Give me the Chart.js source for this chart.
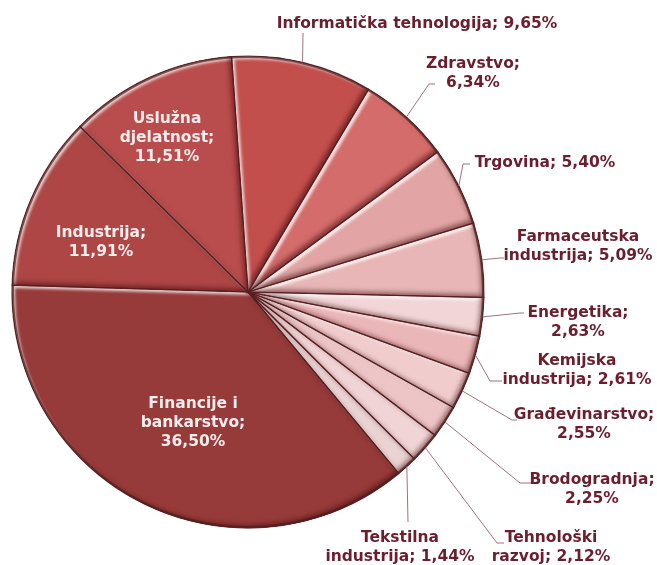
<!DOCTYPE html>
<html>
<head>
<meta charset="utf-8">
<script src="https://cdn.jsdelivr.net/npm/chart.js@4"></script>
<style>
  html, body { margin: 0; padding: 0; background: #fff; }
  #wrap { width: 657px; height: 565px; position: relative; }
</style>
</head>
<body>
<div id="wrap"><canvas id="pie"></canvas></div>
<script>
// categories, clockwise from the top
const sectors = ['Informatička tehnologija', 'Zdravstvo', 'Trgovina', 'Farmaceutska industrija',
  'Energetika', 'Kemijska industrija', 'Građevinarstvo', 'Brodogradnja', 'Tehnološki razvoj',
  'Tekstilna industrija', 'Financije i bankarstvo', 'Industrija', 'Uslužna djelatnost'];
const shares = [9.65, 6.34, 5.40, 5.09, 2.63, 2.61, 2.55, 2.25, 2.12, 1.44, 36.50, 11.91, 11.51];

const fills = ['#C34F4D', '#D46C6B', '#E2A4A4', '#E8B6B6', '#F2D6D7', '#EBB6B8', '#F0CCCD',
  '#EDC5C7', '#F1D4D5', '#EBD3D4', '#973A3A', '#AE4646', '#B94C4C'];

// label layout: words per line, text centre, where the leader bends
const labelLayout = [
  {lines: [4], x: 417, y: 24, bend: [303, 33]},
  {lines: [1, 1], x: 473, y: 64, bend: [429, 84], end: 435},
  {lines: [3], x: 545, y: 163, bend: [463, 164], end: 470},
  {lines: [1, 2], x: 578, y: 237, bend: [500, 258], end: 504},
  {lines: [1, 1], x: 578, y: 313, bend: [520, 313], end: 524},
  {lines: [1, 2], x: 577, y: 361, bend: [490, 381], end: 502},
  {lines: [1, 1], x: 584, y: 415, bend: [512, 420], end: 517},
  {lines: [1, 1], x: 592, y: 480, bend: [520, 483], end: 531},
  {lines: [1, 2], x: 551, y: 538, bend: [497, 543], end: 504},
  {lines: [1, 2], x: 400, y: 538, bend: [408, 522]},
  {lines: [2, 1, 1], x: 193, y: 404, inside: true},
  {lines: [1, 1], x: 101, y: 233, inside: true},
  {lines: [1, 1, 1], x: 167, y: 119, inside: true}
];

const fmt = v => v.toFixed(2).replace('.', ',') + '%';

function slicePath(ctx, a) {
  ctx.moveTo(a.x, a.y);
  ctx.arc(a.x, a.y, a.outerRadius, a.startAngle, a.endAngle);
  ctx.closePath();
}

// soft bevel look of the original: light upper-left edges, dark lower-right edges
const bevel = {
  id: 'bevel',
  afterDatasetsDraw(chart) {
    const ctx = chart.ctx;
    const arcs = chart.getDatasetMeta(0).data;
    arcs.forEach(a => {
      ctx.save();
      ctx.beginPath(); slicePath(ctx, a); ctx.clip();
      [['rgba(255,255,255,0.8)', 3, 3, 3], ['rgba(50,0,0,0.5)', -3, -3, 5]].forEach(s => {
        ctx.save();
        ctx.beginPath();
        ctx.rect(-3000, -3000, 7000, 7000);
        slicePath(ctx, a);
        ctx.shadowColor = s[0];
        ctx.shadowOffsetX = s[1];
        ctx.shadowOffsetY = s[2];
        ctx.shadowBlur = s[3];
        ctx.fillStyle = '#000';
        ctx.fill('evenodd');
        ctx.restore();
      });
      ctx.restore();
    });
    // edge lines
    ctx.save();
    ctx.strokeStyle = 'rgba(90,30,30,0.85)';
    ctx.lineWidth = 1.2;
    arcs.forEach(a => { ctx.beginPath(); slicePath(ctx, a); ctx.stroke(); });
    // darker rim
    const a0 = arcs[0];
    ctx.beginPath();
    ctx.arc(a0.x, a0.y, a0.outerRadius - 1, 0, Math.PI * 2);
    ctx.strokeStyle = 'rgba(80,30,30,0.7)';
    ctx.lineWidth = 2;
    ctx.stroke();
    ctx.restore();
  }
};

const sliceLabels = {
  id: 'sliceLabels',
  afterDraw(chart) {
    const ctx = chart.ctx;
    const arcs = chart.getDatasetMeta(0).data;
    ctx.save();
    ctx.font = 'bold 15.5px "DejaVu Sans", Verdana, sans-serif';
    ctx.textAlign = 'center';
    ctx.textBaseline = 'middle';
    arcs.forEach((a, i) => {
      const lay = labelLayout[i];
      const words = (sectors[i] + '; ' + fmt(shares[i])).split(' ');
      const rows = [];
      let k = 0;
      lay.lines.forEach(n => { rows.push(words.slice(k, k + n).join(' ')); k += n; });
      if (!lay.inside) {
        const mid = (a.startAngle + a.endAngle) / 2;
        const ax = a.x + Math.cos(mid) * a.outerRadius;
        const ay = a.y + Math.sin(mid) * a.outerRadius;
        ctx.beginPath();
        ctx.moveTo(ax, ay);
        ctx.lineTo(lay.bend[0], lay.bend[1]);
        if (lay.end) ctx.lineTo(lay.end, lay.bend[1]);
        ctx.strokeStyle = '#A0737B';
        ctx.lineWidth = 1;
        ctx.stroke();
      }
      ctx.fillStyle = lay.inside ? '#F6ECEC' : '#6B1F2E';
      rows.forEach((r, j) => ctx.fillText(r, lay.x, lay.y + j * 19));
    });
    ctx.restore();
  }
};

new Chart(document.getElementById('pie'), {
  type: 'pie',
  data: {
    labels: sectors,
    datasets: [{
      data: shares,
      backgroundColor: fills,
      borderWidth: 0
    }]
  },
  options: {
    responsive: true,
    maintainAspectRatio: false,
    animation: false,
    rotation: -4,
    radius: 236,
    layout: { padding: { left: 12, right: 173, top: 56, bottom: 37 } },
    plugins: { legend: { display: false }, tooltip: { enabled: false } }
  },
  plugins: [bevel, sliceLabels]
});
</script>
</body>
</html>
